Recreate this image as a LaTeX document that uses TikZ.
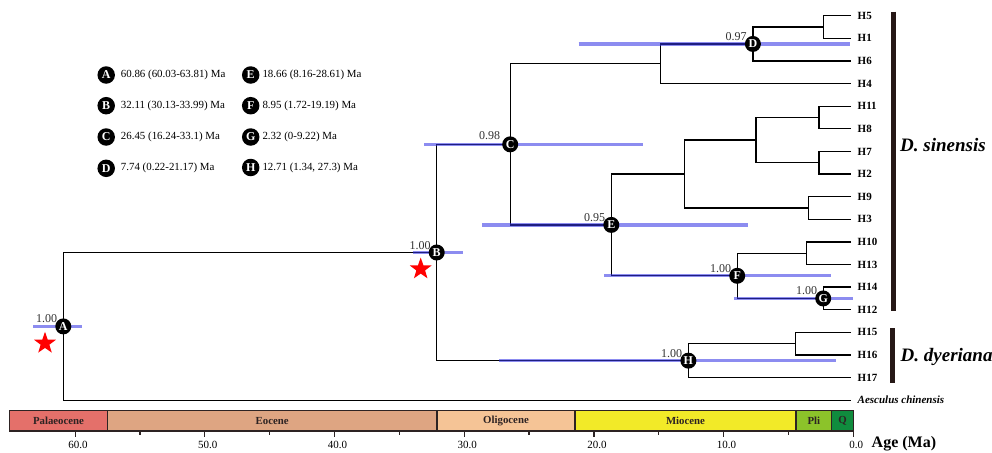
\documentclass[tikz,border=0pt]{standalone}
\usepackage{fontspec}
\setmainfont{Liberation Serif}
\usetikzlibrary{shapes.geometric}
\definecolor{hpdc}{RGB}{53,53,228}
\definecolor{supc}{RGB}{50,50,50}
\definecolor{spbar}{RGB}{38,24,22}
\definecolor{palc}{RGB}{228,112,106}
\definecolor{eocc}{RGB}{222,165,130}
\definecolor{olic}{RGB}{245,196,150}
\definecolor{mioc}{RGB}{242,234,40}
\definecolor{plic}{RGB}{140,195,42}
\definecolor{qc}{RGB}{16,140,62}
\definecolor{epline}{RGB}{45,35,35}
\begin{document}
\begin{tikzpicture}[x=1pt,y=-1pt,
  branch/.style={line width=1.3pt, black},
  hpdbar/.style={line width=3.2pt, hpdc, opacity=0.57},
  mk/.style={circle, fill=black, minimum size=16pt, inner sep=0pt, text=white, font=\bfseries\fontsize{12}{12}\selectfont},
  legmk/.style={mk, minimum size=17.5pt},
  legtext/.style={anchor=west, inner sep=0pt, font=\fontsize{10.9}{12}\selectfont},
  sup/.style={anchor=base east, inner sep=0pt, text=supc, font=\fontsize{12}{12}\selectfont, xshift=-6pt, yshift=3.5pt},
  tip/.style={anchor=west, inner sep=0pt, font=\bfseries\fontsize{11}{12}\selectfont},
  species/.style={anchor=west, inner sep=0pt, font=\bfseries\itshape\fontsize{19}{20}\selectfont},
  spline/.style={line width=4.5pt, spbar},
  epoch/.style={draw=epline, line width=1.1pt, minimum height=20.3pt, inner sep=0pt, text=epline, font=\bfseries\fontsize{10.8}{12}\selectfont},
  ticklab/.style={inner sep=0pt, font=\fontsize{11}{12}\selectfont},
  rstar/.style={star, star points=5, star point ratio=2.5, fill=red, minimum size=23pt, inner sep=0pt}
]
\useasboundingbox (0,0) rectangle (992,452);

% ---------- tips ----------
\foreach \n/\y in {5/15.7,1/38.3,6/60.9,4/83.6,11/106.2,8/128.8,7/151.4,2/174.0,9/196.7,3/219.3,10/241.9,13/264.5,14/287.1,12/309.8,15/332.4,16/355.0,17/377.6}{
  \coordinate (t\n) at (851,\y);
  \node[tip] (l\n) at (857.5,\y) {H\n};
}
\coordinate (tAes) at (851,400.2);
\node[tip, font=\bfseries\itshape\fontsize{11}{12}\selectfont] (lAes) at (857.5,400.2) {Aesculus chinensis};

% ---------- internal nodes ----------
\coordinate (A) at (63.3,326.4);
\coordinate (B) at (436.7,252.5);
\coordinate (C) at (510.2,144.35);
\coordinate (DP) at (660.7,63.8);
\coordinate (D) at (752.9,43.95);
\coordinate (n51) at (823.3,27);
\coordinate (E) at (611.3,224.9);
\coordinate (C1) at (684.3,174.05);
\coordinate (U4) at (756,140.1);
\coordinate (n118) at (819,117.5);
\coordinate (n72) at (819,162.7);
\coordinate (n93) at (808.3,208);
\coordinate (F) at (737.2,275.8);
\coordinate (n1013) at (806.7,253.2);
\coordinate (G) at (823.2,298.45);
\coordinate (H) at (688.4,360.65);
\coordinate (n1516) at (795.7,343.7);

% ---------- branches ----------
\draw[branch] (t5) -| (n51) |- (t1);
\draw[branch] (n51) -| (D) |- (t6);
\draw[branch] (D) -| (DP) |- (t4);
\draw[branch] (t11) -| (n118) |- (t8);
\draw[branch] (t7) -| (n72) |- (t2);
\draw[branch] (n118) -| (U4) |- (n72);
\draw[branch] (t9) -| (n93) |- (t3);
\draw[branch] (U4) -| (C1) |- (n93);
\draw[branch] (t10) -| (n1013) |- (t13);
\draw[branch] (t14) -| (G) |- (t12);
\draw[branch] (n1013) -| (F) |- (G);
\draw[branch] (C1) -| (E) |- (F);
\draw[branch] (DP) -| (C) |- (E);
\draw[branch] (t15) -| (n1516) |- (t16);
\draw[branch] (n1516) -| (H) |- (t17);
\draw[branch] (C) -| (B) |- (H);
\draw[branch] (B) -| (A) |- (tAes);

% ---------- HPD bars ----------
\foreach \k/\xa/\xb/\y in {A/33/82/326.4, B/412.7/462.7/252.5, C/424.2/643/144.35, D/578.7/850.4/43.95, E/482.4/747.5/224.9, F/604.4/831/275.8, G/733.8/853.3/298.45, H/499.2/835.9/360.65}{
  \coordinate (h\k l) at (\xa,\y);
  \coordinate (h\k r) at (\xb,\y);
  \draw[hpdbar] (h\k l) -- (h\k r);
}

% ---------- node markers ----------
\foreach \k in {A,B,C,D,E,F,G,H}{
  \node[mk] (m\k) at (\k) {\k};
}

% ---------- support values ----------
\node[sup] (sA) at (A) {1.00};
\node[sup] (sB) at (B) {1.00};
\node[sup, xshift=-4pt, yshift=1.5pt] (sC) at (C) {0.98};
\node[sup] (sD) at (D) {0.97};
\node[sup] (sE) at (E) {0.95};
\node[sup] (sF) at (F) {1.00};
\node[sup] (sG) at (G) {1.00};
\node[sup] (sH) at (H) {1.00};

% ---------- stars ----------
\node[rstar] (starA) at (45,343.3) {};
\node[rstar] (starB) at (420.7,269) {};

% ---------- legend ----------
\node[legmk] (kA) at (106.2,75) {A};
\node[legtext] (kAt) at (120.7,75) {60.86 (60.03-63.81) Ma};
\node[legmk] (kB) at (106.2,105.7) {B};
\node[legtext] (kBt) at (120.7,105.7) {32.11 (30.13-33.99) Ma};
\node[legmk] (kC) at (106.2,137) {C};
\node[legtext] (kCt) at (120.7,137) {26.45 (16.24-33.1) Ma};
\node[legmk] (kD) at (106.2,168.3) {D};
\node[legtext] (kDt) at (120.7,168.3) {7.74 (0.22-21.17) Ma};
\node[legmk] (kE) at (250.7,75) {E};
\node[legtext] (kEt) at (262.3,75) {18.66 (8.16-28.61) Ma};
\node[legmk] (kF) at (250.7,105.7) {F};
\node[legtext] (kFt) at (262.3,105.7) {8.95 (1.72-19.19) Ma};
\node[legmk] (kG) at (250.7,137) {G};
\node[legtext] (kGt) at (262.3,137) {2.32 (0-9.22) Ma};
\node[legmk] (kH) at (250.7,167.5) {H};
\node[legtext] (kHt) at (262.3,167.5) {12.71 (1.34, 27.3) Ma};

% ---------- species bars ----------
\coordinate (ss1) at (893.3,11.7);
\coordinate (ss2) at (893.3,310.7);
\draw[spline] (ss1) -- (ss2);
\node[species] (sin) at (900,145) {D. sinensis};
\coordinate (sd1) at (892.7,328.3);
\coordinate (sd2) at (892.7,382.7);
\draw[spline] (sd1) -- (sd2);
\node[species] (dye) at (900.5,356.7) {D. dyeriana};

% ---------- time scale ----------
\node[epoch, fill=palc, minimum width=97.6pt] (pal) at (58.5,420.85) {Palaeocene};
\node[epoch, fill=eocc, minimum width=329.7pt] (eoc) at (272.15,420.85) {Eocene};
\node[epoch, fill=olic, minimum width=138pt] (oli) at (506,420.85) {Oligocene};
\node[epoch, fill=mioc, minimum width=221pt] (mio) at (685.5,420.85) {Miocene};
\node[epoch, fill=plic, minimum width=35.7pt] (pli) at (813.85,420.85) {Pli};
\node[epoch, fill=qc, minimum width=21.6pt] (q) at (842.5,420.85) {Q};

\foreach \a in {60,50,40,30,20,10,0}{
  \draw[line width=1.2pt, epline] ({853.3-12.97*\a},431) -- ({853.3-12.97*\a},436.5);
}
\foreach \a in {55,45,35,25,15,5}{
  \draw[line width=1.2pt, epline] ({853.3-12.97*\a},431) -- ({853.3-12.97*\a},434.5);
}
\foreach \a in {60,50,40,30,20,10,0}{
  \node[ticklab] at ({856.3-12.97*\a},445) {\a.0};
}
\node[anchor=west, inner sep=0pt, font=\bfseries\fontsize{16}{18}\selectfont] (agelab) at (871.5,444) {Age (Ma)};
\end{tikzpicture}
\end{document}
